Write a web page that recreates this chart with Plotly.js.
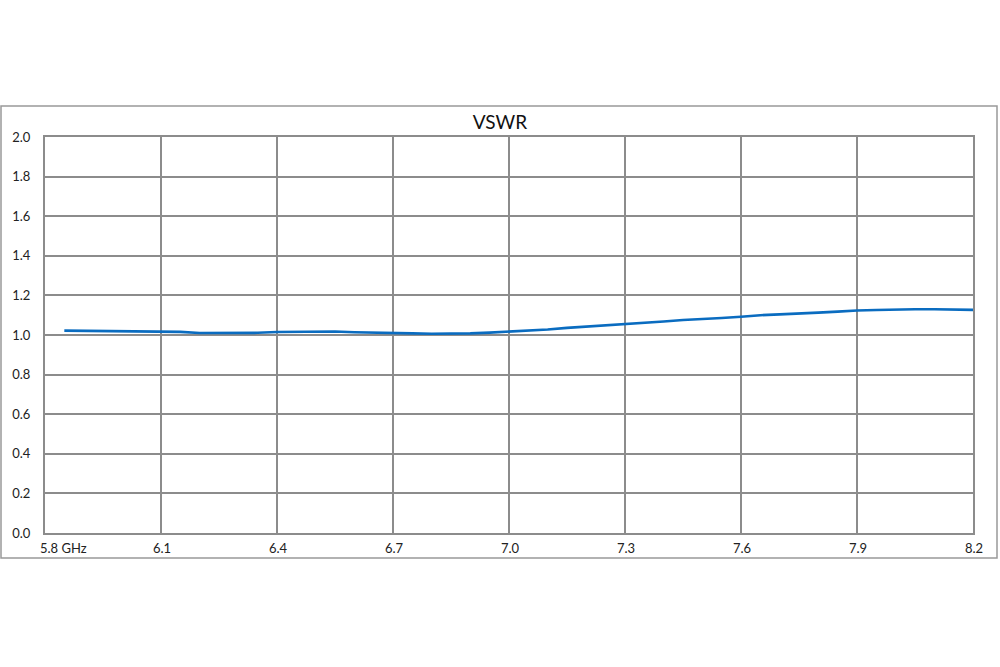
<!DOCTYPE html>
<html>
<head>
<meta charset="utf-8">
<script src="https://cdn.plot.ly/plotly-3.0.1.min.js"></script>
<style>
  html, body { margin: 0; padding: 0; background: #fff; }
  #chart { width: 1000px; height: 667px; }
</style>
</head>
<body>
<div id="chart"></div>
<script>
// Frequency (GHz)
const freq = [5.85, 5.90, 5.95, 6.00, 6.05, 6.10, 6.15, 6.20, 6.25, 6.30, 6.35, 6.40,
  6.45, 6.50, 6.55, 6.60, 6.65, 6.70, 6.75, 6.80, 6.85, 6.90, 6.95, 7.00, 7.05, 7.10,
  7.15, 7.20, 7.25, 7.30, 7.35, 7.40, 7.45, 7.50, 7.55, 7.60, 7.65, 7.70, 7.75, 7.80,
  7.85, 7.90, 7.95, 8.00, 8.05, 8.10, 8.15, 8.20];
// VSWR values
const vswr = [1.022, 1.021, 1.022, 1.020, 1.020, 1.019, 1.016, 1.010, 1.010, 1.009, 1.011, 1.015,
  1.016, 1.016, 1.018, 1.014, 1.013, 1.012, 1.008, 1.006, 1.006, 1.008, 1.012, 1.017, 1.022, 1.028,
  1.036, 1.042, 1.049, 1.056, 1.063, 1.068, 1.076, 1.080, 1.086, 1.092, 1.100, 1.104, 1.110, 1.113,
  1.118, 1.124, 1.126, 1.129, 1.130, 1.130, 1.129, 1.127];

const xTickVals = [5.8, 6.1, 6.4, 6.7, 7.0, 7.3, 7.6, 7.9, 8.2];
const xTickText = ['5.8 GHz', '6.1', '6.4', '6.7', '7.0', '7.3', '7.6', '7.9', '8.2'];
const yTickVals = [0, 0.2, 0.4, 0.6, 0.8, 1.0, 1.2, 1.4, 1.6, 1.8, 2.0];
const yTickText = ['0.0', '0.2', '0.4', '0.6', '0.8', '1.0', '1.2', '1.4', '1.6', '1.8', '2.0'];

const gridColor = '#8c8c8c';
const fontFam = 'Lato, "Open Sans", Arial, sans-serif';

const trace = {
  x: freq, y: vswr, type: 'scatter', mode: 'lines',
  line: { color: '#0a6cc0', width: 2.6 },
  hoverinfo: 'skip'
};

const annotations = xTickVals.map((v, i) => ({
  x: v, y: 0, xref: 'x', yref: 'y',
  text: xTickText[i], showarrow: false,
  xanchor: i === 0 ? 'left' : 'center', yanchor: 'middle',
  xshift: i === 0 ? -7 : 1, yshift: -15,
  font: { family: fontFam, size: 13, color: '#222' }
}));

const layout = {
  width: 1000, height: 667,
  margin: { l: 45, r: 27, t: 137, b: 134 },
  paper_bgcolor: '#fff', plot_bgcolor: '#fff',
  showlegend: false,
  title: {
    text: 'VSWR', x: 0.5, xref: 'container', y: 1 - 122 / 667, yref: 'container',
    xanchor: 'center', yanchor: 'middle',
    font: { family: fontFam, size: 19, color: '#111' }
  },
  xaxis: {
    range: [5.8, 8.2], tickvals: xTickVals, showticklabels: false,
    showgrid: true, gridcolor: gridColor, gridwidth: 2,
    showline: true, mirror: true, linecolor: gridColor, linewidth: 2,
    zeroline: false, fixedrange: true
  },
  yaxis: {
    range: [0, 2], tickvals: yTickVals, ticktext: yTickText,
    showgrid: true, gridcolor: gridColor, gridwidth: 2,
    showline: true, mirror: true, linecolor: gridColor, linewidth: 2,
    zeroline: false, ticks: 'outside', ticklen: 10, tickcolor: 'rgba(0,0,0,0)',
    tickfont: { family: fontFam, size: 13, color: '#222' }, fixedrange: true
  },
  annotations: annotations,
  shapes: [{
    type: 'rect', xref: 'paper', yref: 'paper',
    x0: (1 - 45) / 928, x1: (997 - 45) / 928,
    y0: (533 - 558) / 396, y1: (533 - 106) / 396,
    line: { color: '#999', width: 1.5 }, fillcolor: 'rgba(0,0,0,0)', layer: 'below'
  }]
};

Plotly.newPlot('chart', [trace], layout, { staticPlot: true, displayModeBar: false });
</script>
</body>
</html>
